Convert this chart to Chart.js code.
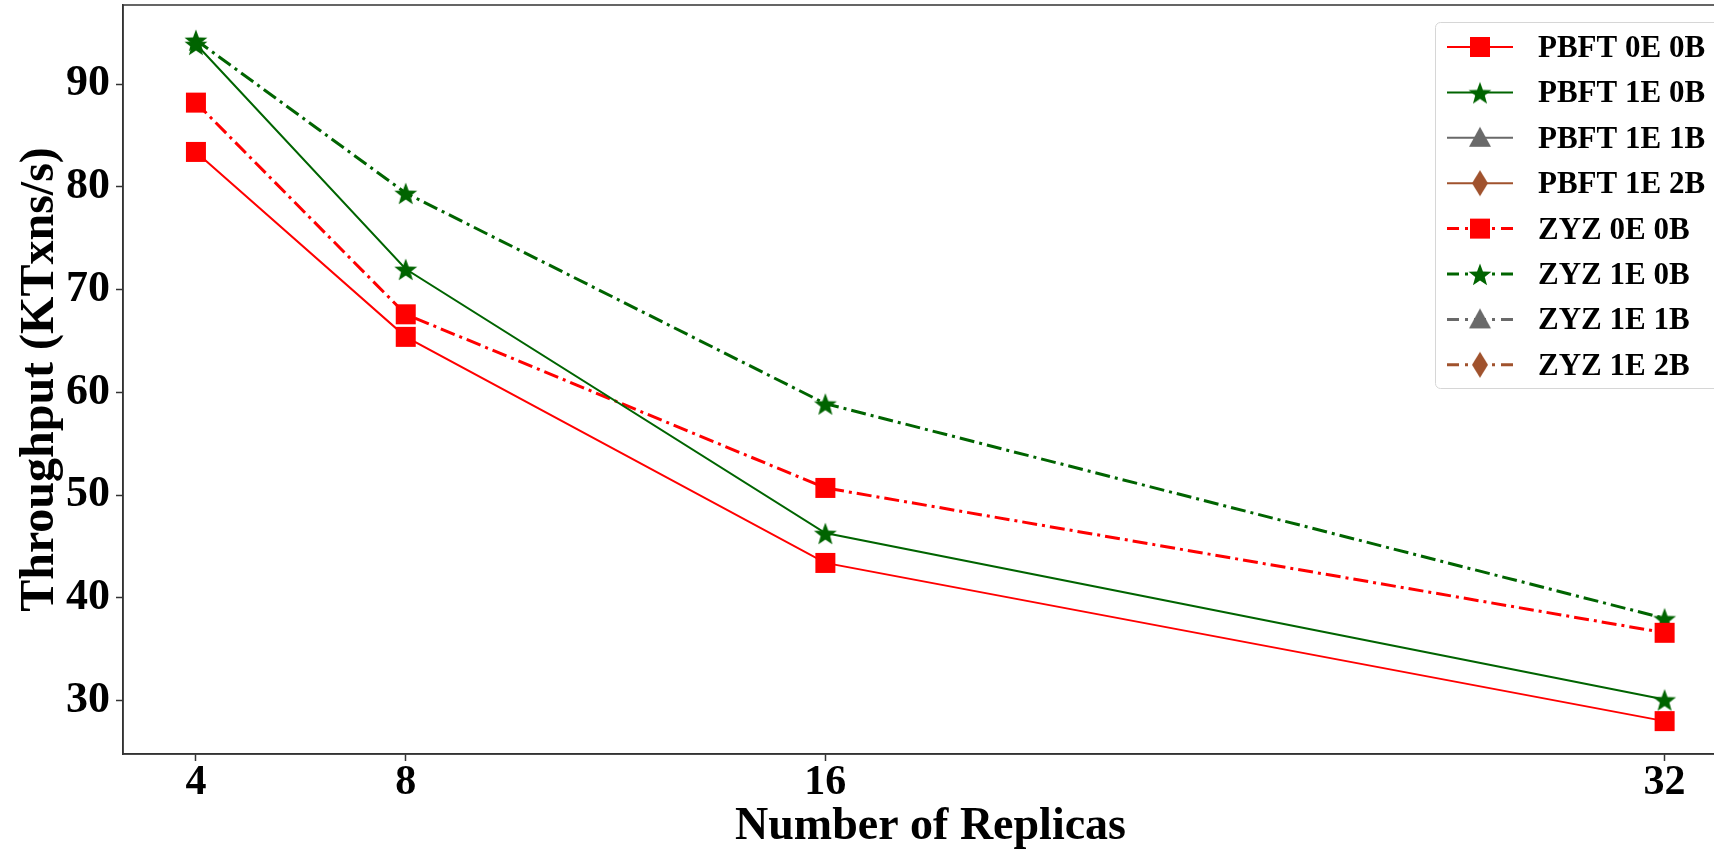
<!DOCTYPE html>
<html>
<head>
<meta charset="utf-8">
<script src="https://cdn.jsdelivr.net/npm/chart.js@4.4.1/dist/chart.umd.min.js"></script>
<style>
  html, body { margin: 0; padding: 0; background: #fff; overflow: hidden; }
  /* the original figure is cropped on the right: axes run a little past the frame */
  #clip { width: 1714px; height: 855px; overflow: hidden; position: relative; }
  #wrap { width: 1740px; height: 855px; position: relative; }
</style>
</head>
<body>
<div id="clip"><div id="wrap"><canvas id="chart"></canvas></div></div>
<script>
// Throughput vs number of replicas

const replicas = [4, 8, 16, 32];
const yTicks = [30, 40, 50, 60, 70, 80, 90];

const pbft0E0B = [83.4, 65.4, 43.4, 28.0];
const pbft1E0B = [93.9, 72.0, 46.3, 30.1];
const pbft1E1B = [];
const pbft1E2B = [];
const zyz0E0B = [88.2, 67.6, 50.7, 36.6];
const zyz1E0B = [94.3, 79.4, 58.9, 38.0];
const zyz1E1B = [];
const zyz1E2B = [];

const FONT = "'Liberation Serif', 'Times New Roman', serif";
const RED = '#ff0000';
const GREEN = '#006400';
const GRAY = '#696969';
const BROWN = '#a0522d';
const DASHDOT = [15, 5, 3, 5];

// marker images (matplotlib style shapes)
function makeMarker(shape, color) {
    const s = 28;
    const c = document.createElement('canvas');
    c.width = s; c.height = s;
    const g = c.getContext('2d');
    g.fillStyle = color;
    const m = s / 2;
    g.beginPath();
    if (shape === 's') {
        g.rect(m - 10, m - 10, 20, 20);
    } else if (shape === '*') {
        for (let i = 0; i < 10; i++) {
            const r = i % 2 === 0 ? 12 : 5;
            const a = -Math.PI / 2 + i * Math.PI / 5;
            const px = m + r * Math.cos(a), py = m + 1.5 + r * Math.sin(a);
            i === 0 ? g.moveTo(px, py) : g.lineTo(px, py);
        }
        g.closePath();
    } else if (shape === '^') {
        g.moveTo(m, m - 11);
        g.lineTo(m + 11, m + 9);
        g.lineTo(m - 11, m + 9);
        g.closePath();
    } else if (shape === 'd') {
        g.moveTo(m, m - 13);
        g.lineTo(m + 8, m);
        g.lineTo(m, m + 13);
        g.lineTo(m - 8, m);
        g.closePath();
    }
    g.fill();
    return c;
}

function series(label, values, color, shape, dashed) {
    return {
        label: label,
        data: values.map((v, i) => ({ x: replicas[i], y: v })),
        borderColor: color,
        backgroundColor: color,
        borderWidth: dashed ? 3 : 2,
        borderDash: dashed ? DASHDOT : [],
        pointStyle: makeMarker(shape, color),
        pointRadius: 10,
        tension: 0,
        fill: false,
        clip: false
    };
}

const datasets = [
    series('PBFT 0E 0B', pbft0E0B, RED, 's', false),
    series('PBFT 1E 0B', pbft1E0B, GREEN, '*', false),
    series('PBFT 1E 1B', pbft1E1B, GRAY, '^', false),
    series('PBFT 1E 2B', pbft1E2B, BROWN, 'd', false),
    series('ZYZ 0E 0B', zyz0E0B, RED, 's', true),
    series('ZYZ 1E 0B', zyz1E0B, GREEN, '*', true),
    series('ZYZ 1E 1B', zyz1E1B, GRAY, '^', true),
    series('ZYZ 1E 2B', zyz1E2B, BROWN, 'd', true)
];

// full box around the plot area
const frame = {
    id: 'frame',
    afterDatasetsDraw(chart) {
        const a = chart.chartArea, ctx = chart.ctx;
        ctx.save();
        ctx.strokeStyle = '#333';
        ctx.lineWidth = 1.5;
        ctx.strokeRect(a.left, a.top, a.right - a.left, a.bottom - a.top);
        ctx.restore();
    }
};

// legend box inside upper right, line sample + marker
const innerLegend = {
    id: 'innerLegend',
    afterDraw(chart) {
        const ctx = chart.ctx;
        const x0 = 1435, y0 = 22, w = 288, h = 366;
        ctx.save();
        ctx.fillStyle = 'rgba(255,255,255,0.8)';
        ctx.strokeStyle = '#d6d6d6';
        ctx.lineWidth = 1;
        ctx.beginPath();
        ctx.roundRect(x0 + 0.5, y0 + 0.5, w, h, 5);
        ctx.fill();
        ctx.stroke();
        ctx.font = 'bold 31px ' + FONT;
        ctx.textBaseline = 'middle';
        chart.data.datasets.forEach((ds, i) => {
            const y = y0 + 25 + i * 45.4;
            ctx.strokeStyle = ds.borderColor;
            ctx.lineWidth = ds.borderWidth;
            ctx.setLineDash(ds.borderDash.length ? [12, 6, 3, 6] : []);
            ctx.beginPath();
            ctx.moveTo(x0 + 12, y);
            ctx.lineTo(x0 + 78, y);
            ctx.stroke();
            ctx.setLineDash([]);
            const img = ds.pointStyle;
            ctx.drawImage(img, x0 + 45 - img.width / 2, y - img.height / 2);
            ctx.fillStyle = '#000';
            ctx.fillText(ds.label, x0 + 103, y + 2);
        });
        ctx.restore();
    }
};

new Chart(document.getElementById('chart').getContext('2d'), {
    type: 'line',
    data: { datasets: datasets },
    options: {
        responsive: true,
        maintainAspectRatio: false,
        animation: false,
        layout: { autoPadding: false, padding: { top: 5, right: 2, left: 0, bottom: 0 } },
        scales: {
            x: {
                type: 'linear',
                min: 2.61,
                max: 33.4,
                afterBuildTicks: scale => { scale.ticks = replicas.map(v => ({ value: v })); },
                afterFit: scale => {
                    scale.height = 101;
                    scale.paddingLeft = 0;
                    scale.paddingRight = 0;
                },
                grid: { drawOnChartArea: false, tickLength: 7, tickColor: '#333', tickWidth: 1.5 },
                border: { display: true, color: '#333', width: 1.5 },
                ticks: {
                    color: '#000',
                    padding: 1,
                    maxRotation: 0,
                    font: { family: FONT, size: 42, weight: 'bold', lineHeight: 1 }
                },
                title: {
                    display: true,
                    text: 'Number of Replicas',
                    color: '#000',
                    padding: { top: 0, bottom: 0 },
                    font: { family: FONT, size: 46, weight: 'bold' }
                }
            },
            y: {
                min: 24.8,
                max: 97.7,
                afterBuildTicks: scale => { scale.ticks = yTicks.map(v => ({ value: v })); },
                afterFit: scale => {
                    scale.width = 123;
                    scale.paddingTop = 0;
                    scale.paddingBottom = 0;
                },
                grid: { drawOnChartArea: false, tickLength: 7, tickColor: '#333', tickWidth: 1.5 },
                border: { display: true, color: '#333', width: 1.5 },
                ticks: {
                    color: '#000',
                    padding: 6,
                    font: { family: FONT, size: 44, weight: 'bold' }
                },
                title: {
                    display: true,
                    text: 'Throughput (KTxns/s)',
                    color: '#000',
                    padding: { top: 12, bottom: 0 },
                    font: { family: FONT, size: 48, weight: 'bold' }
                }
            }
        },
        plugins: {
            legend: { display: false },
            tooltip: { enabled: false }
        }
    },
    plugins: [frame, innerLegend]
});
</script>
</body>
</html>
